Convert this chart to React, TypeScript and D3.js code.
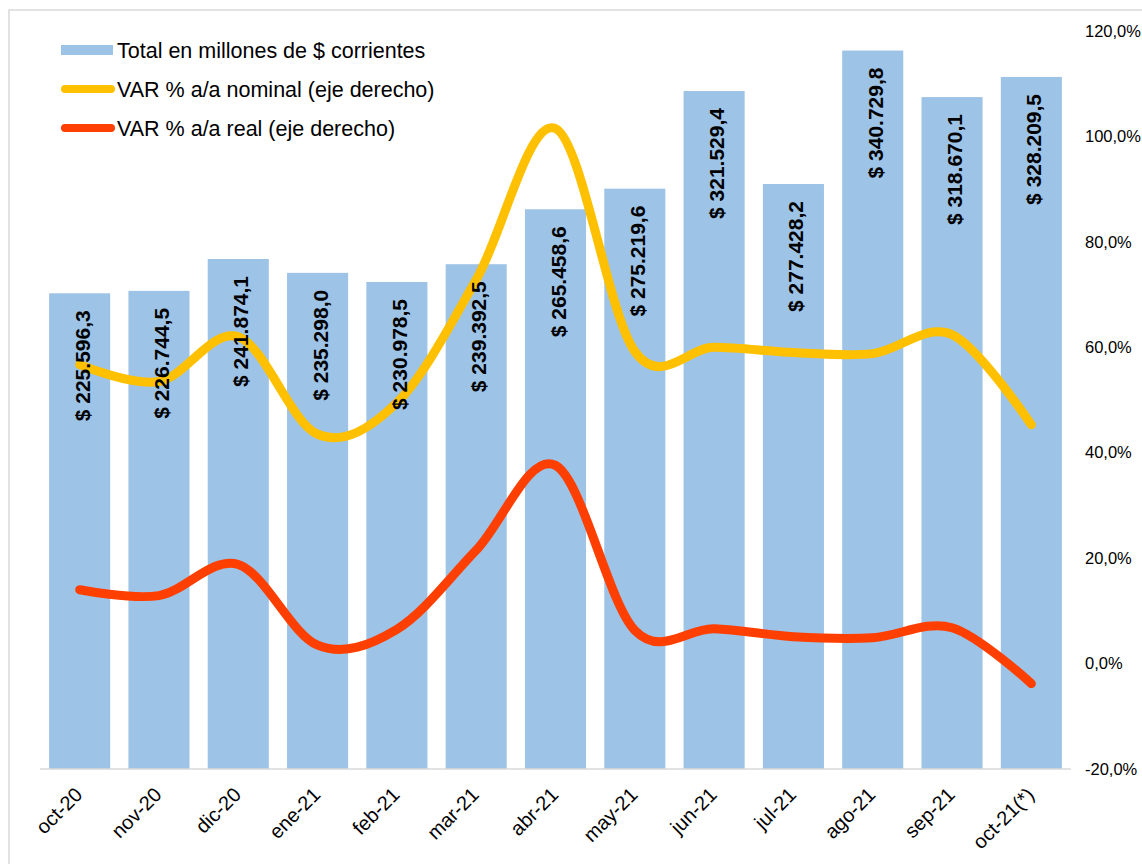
import * as d3 from 'd3'

const months = [
  'oct-20', 'nov-20', 'dic-20', 'ene-21', 'feb-21', 'mar-21', 'abr-21',
  'may-21', 'jun-21', 'jul-21', 'ago-21', 'sep-21', 'oct-21(*)',
]
const totals = [
  225596.3, 226744.5, 241874.1, 235298.0, 230978.5, 239392.5, 265458.6,
  275219.6, 321529.4, 277428.2, 340729.8, 318670.1, 328209.5,
]
const varNominal = [56.7, 53.5, 62.0, 43.5, 49.5, 72.8, 101.5, 59.2, 60.0, 59.0, 58.8, 62.4, 45.3]
const varReal = [14.0, 12.9, 18.8, 3.5, 6.5, 21.5, 37.6, 6.3, 6.6, 5.1, 4.9, 6.8, -3.8]
const pctTicks = [-20, 0, 20, 40, 60, 80, 100, 120]

const legendItems = [
  { label: 'Total en millones de $ corrientes', kind: 'bar', color: '#9DC3E6' },
  { label: 'VAR % a/a nominal (eje derecho)', kind: 'line', color: '#FFC000' },
  { label: 'VAR % a/a real (eje derecho)', kind: 'line', color: '#FF3F00' },
]

const fmtMoney = (v: number) => {
  const [int, dec] = v.toFixed(1).split('.')
  return '$ ' + int.replace(/\B(?=(\d{3})+(?!\d))/g, '.') + ',' + dec
}
const fmtPct = (v: number) => v.toFixed(1).replace('.', ',') + '%'

export default function App() {
  const width = 1142
  const height = 864
  const plot = { left: 40, right: 1071, top: 31, bottom: 769 }
  const font = '"Liberation Sans", Arial, sans-serif'

  const x = d3.scaleBand<string>()
    .domain(months)
    .range([plot.left, plot.right])
    .paddingInner(0.23)
    .paddingOuter(0.115)
  const yLeft = d3.scaleLinear().domain([0, 350000]).range([plot.bottom, plot.top])
  const yRight = d3.scaleLinear().domain([-20, 120]).range([plot.bottom, plot.top])
  const cx = (m: string) => (x(m) ?? 0) + x.bandwidth() / 2

  const line = d3.line<number>()
    .x((_, i) => cx(months[i]))
    .y(v => yRight(v))
    .curve(d3.curveCardinal.tension(0))

  return (
    <div style={{ position: 'absolute', left: 0, top: 0 }}>
      <svg width={width} height={height} style={{ display: 'block', fontFamily: font }}>
        <rect x={0} y={0} width={width} height={height} fill="#fff" />
        <rect x={9} y={10} width={width + 20} height={height + 20} fill="none" stroke="#d9d9d9" strokeWidth={1.5} />

        {months.map((m, i) => (
          <rect
            key={m}
            x={x(m)}
            y={yLeft(totals[i])}
            width={x.bandwidth()}
            height={plot.bottom - yLeft(totals[i])}
            fill="#9DC3E6"
          />
        ))}

        <line x1={plot.left} x2={plot.right} y1={plot.bottom} y2={plot.bottom} stroke="#d9d9d9" strokeWidth={1.5} />

        <path d={line(varNominal) ?? ''} fill="none" stroke="#FFC000" strokeWidth={9} strokeLinecap="round" strokeLinejoin="round" />
        <path d={line(varReal) ?? ''} fill="none" stroke="#FF3F00" strokeWidth={9} strokeLinecap="round" strokeLinejoin="round" />

        {months.map((m, i) => (
          <text
            key={'lbl-' + m}
            transform={`translate(${cx(m) + 10},${yLeft(totals[i]) + 17}) rotate(-90)`}
            textAnchor="end"
            fontSize={21}
            fontWeight="bold"
            fill="#000"
          >
            {fmtMoney(totals[i])}
          </text>
        ))}

        {months.map(m => (
          <text
            key={'x-' + m}
            transform={`translate(${cx(m) + 4},${plot.bottom + 27}) rotate(-45)`}
            textAnchor="end"
            fontSize={20}
            fill="#000"
          >
            {m}
          </text>
        ))}

        {pctTicks.map(t => (
          <text key={'t' + t} x={1085} y={yRight(t)} dy="0.35em" fontSize={16.5} fill="#000">
            {fmtPct(t)}
          </text>
        ))}

        {legendItems.map((item, i) => {
          const cy = 50 + i * 39
          return (
            <g key={item.label}>
              {item.kind === 'bar' ? (
                <rect x={61} y={cy - 5} width={52} height={10} fill={item.color} />
              ) : (
                <line x1={65} x2={111} y1={cy} y2={cy} stroke={item.color} strokeWidth={8} strokeLinecap="round" />
              )}
              <text x={117} y={cy} dy="0.35em" fontSize={21.5} fill="#000">
                {item.label}
              </text>
            </g>
          )
        })}
      </svg>
    </div>
  )
}
